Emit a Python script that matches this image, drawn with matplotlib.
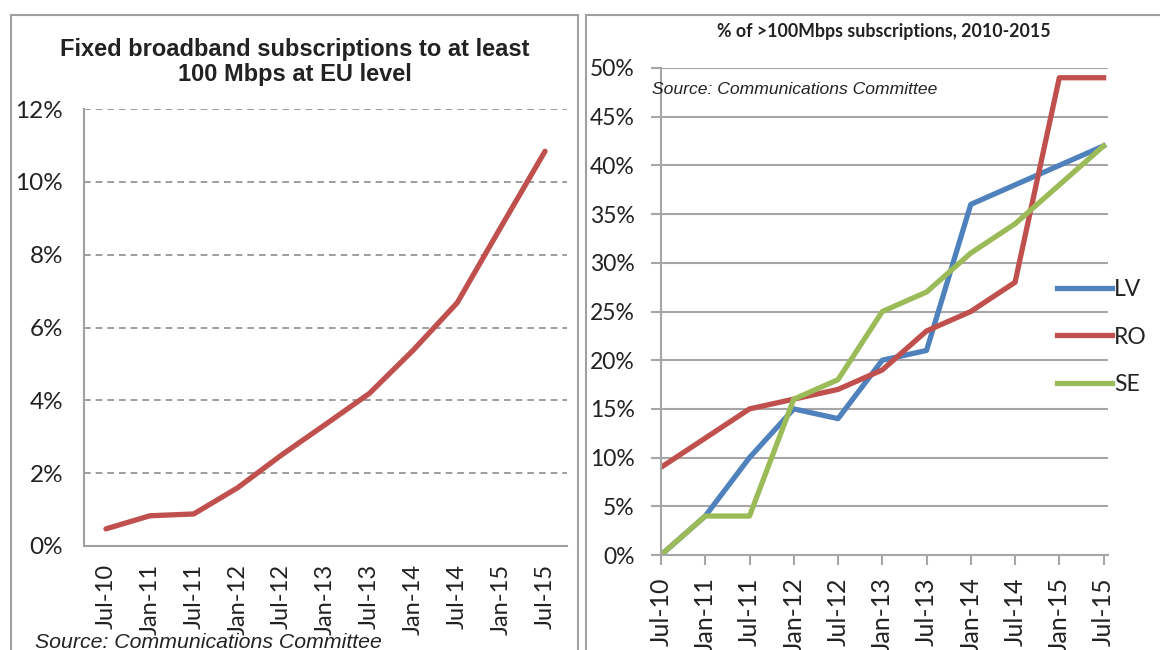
import matplotlib.pyplot as plt
from matplotlib.patches import Rectangle

# data
periods = ['Jul-10', 'Jan-11', 'Jul-11', 'Jan-12', 'Jul-12', 'Jan-13',
           'Jul-13', 'Jan-14', 'Jul-14', 'Jan-15', 'Jul-15']
eu_share = [0.47, 0.83, 0.88, 1.6, 2.5, 3.34, 4.19, 5.38, 6.68, 8.77, 10.84]
lv_share = [0, 4, 10, 15, 14, 20, 21, 36, 38, 40, 42]
ro_share = [9, 12, 15, 16, 17, 19, 23, 25, 28, 49, 49]
se_share = [0, 4, 4, 16, 18, 25, 27, 31, 34, 38, 42]

W, H = 1160, 650
tick_font = 'Lato'
grid_col = '#A6A6A6'
red = '#C0504D'
blue = '#4F81BD'
green = '#9BBB59'

fig = plt.figure(figsize=(W / 100, H / 100), dpi=100)

# panel frames
for x0, x1 in [(11, 578), (586, 1175)]:
    fig.patches.append(Rectangle((x0 / W, 0 - 0.05), (x1 - x0) / W, 1 - 15 / H + 0.05,
                                 transform=fig.transFigure, fill=False,
                                 edgecolor='#A0A0A0', linewidth=1.5))

def box(x0, y0, x1, y1):
    return [x0 / W, 1 - y1 / H, (x1 - x0) / W, (y1 - y0) / H]

# ---- left chart
ax1 = fig.add_axes(box(84, 109, 567, 546))
xs = range(len(periods))
ax1.plot(xs, eu_share, color=red, linewidth=3.8, solid_capstyle='round')
ax1.set_xlim(-0.5, 10.5)
ax1.set_ylim(0, 12)
ax1.set_yticks(range(0, 13, 2))
ax1.set_yticklabels([f'{v}%' for v in range(0, 13, 2)])
ax1.set_xticks(list(xs))
ax1.set_xticklabels(periods, rotation=90)
ax1.tick_params(length=0, labelsize=17.5, colors='#222222')
ax1.tick_params(axis='y', pad=15)
ax1.tick_params(axis='x', pad=13, labelsize=17)
for lab in ax1.get_xticklabels() + ax1.get_yticklabels():
    lab.set_family(tick_font)
ax1.yaxis.grid(True, linestyle=(0, (4, 3)), color='#8C8C8C', linewidth=1.2)
ax1.set_axisbelow(True)
for s in ['top', 'right']:
    ax1.spines[s].set_visible(False)
for s in ['left', 'bottom']:
    ax1.spines[s].set_color('#A0A0A0')
    ax1.spines[s].set_linewidth(1.5)

fig.text(295 / W, 1 - 62 / H, 'Fixed broadband subscriptions to at least\n100 Mbps at EU level',
         ha='center', va='center', fontsize=17, fontweight='bold',
         family='Liberation Sans', color='#222222', linespacing=1.15)
fig.text(35 / W, 1 - 642 / H, 'Source: Communications Committee', ha='left', va='center',
         fontsize=15.3, style='italic', family='Liberation Sans', color='#222222')

# ---- right chart
ax2 = fig.add_axes(box(661, 68, 1108, 555))
ax2.plot(xs, lv_share, color=blue, linewidth=3.8, label='LV')
ax2.plot(xs, ro_share, color=red, linewidth=3.8, label='RO')
ax2.plot(xs, se_share, color=green, linewidth=3.8, label='SE')
ax2.set_xlim(0, 10.1)
ax2.set_ylim(0, 50)
ax2.set_yticks(range(0, 51, 5))
ax2.set_yticklabels([f'{v}%' for v in range(0, 51, 5)])
ax2.set_xticks(list(xs))
ax2.set_xticklabels(periods, rotation=90)
ax2.tick_params(direction='out', length=7, width=1.5, color=grid_col,
                labelsize=18, labelcolor='#222222')
ax2.tick_params(axis='y', labelsize=16.5, pad=12)
ax2.tick_params(axis='x', pad=9)
for lab in ax2.get_xticklabels() + ax2.get_yticklabels():
    lab.set_family(tick_font)
ax2.yaxis.grid(True, color=grid_col, linewidth=1.5)
ax2.set_axisbelow(True)
for s in ['top', 'right']:
    ax2.spines[s].set_visible(False)
for s in ['left', 'bottom']:
    ax2.spines[s].set_color(grid_col)
    ax2.spines[s].set_linewidth(1.5)

leg = ax2.legend(loc='center left', bbox_to_anchor=(1036 / W, 1 - 337 / H),
                 bbox_transform=fig.transFigure, frameon=False, handlelength=2.4,
                 handletextpad=0.1, labelspacing=1.15,
                 prop={'family': tick_font, 'size': 16.5})
for t in leg.get_texts():
    t.set_color('#222222')

fig.text(884 / W, 1 - 32 / H, '% of >100Mbps subscriptions, 2010-2015', ha='center',
         va='center', fontsize=12.8, fontweight='bold', family='Lato', color='#222222')
fig.text(652 / W, 1 - 90 / H, 'Source: Communications Committee', ha='left', va='center',
         fontsize=12.6, style='italic', family='Liberation Sans', color='#222222')

fig.savefig('out.png', dpi=100)
